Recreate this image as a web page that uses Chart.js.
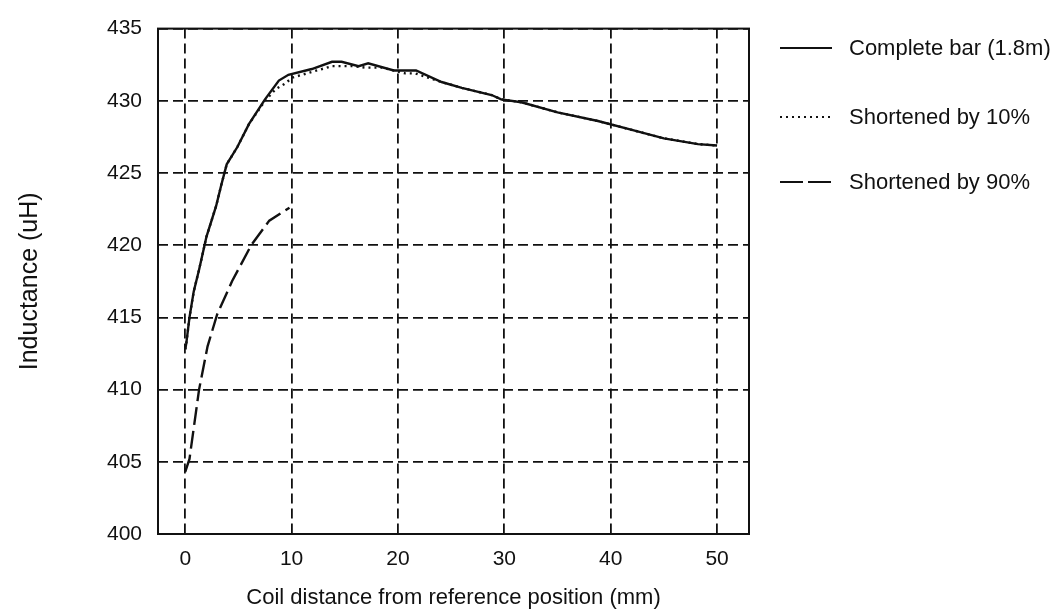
<!DOCTYPE html>
<html><head><meta charset="utf-8">
<script src="https://cdn.jsdelivr.net/npm/chart.js@4.4.1/dist/chart.umd.min.js"></script>
<style>html,body{margin:0;padding:0;background:#fff;}canvas{display:block;}</style>
</head><body>
<canvas id="c" width="1063" height="615"></canvas>
<script>
// ---- data ----
const seriesNames = ['Complete bar (1.8m)', 'Shortened by 10%', 'Shortened by 90%'];
const completeX = [0, 0.1, 0.4, 0.8, 1.3, 2.0, 2.9, 3.4, 3.9, 4.9, 6.0, 7.5, 8.8, 9.7, 11.9, 13.8, 14.7, 16.3, 17.2, 19.6, 21.7, 24.1, 26.0, 28.8, 29.7, 31.6, 35.0, 38.8, 41.9, 45.0, 48.2, 50];
const completeY = [412.8, 413.2, 415.0, 416.8, 418.3, 420.6, 422.7, 424.2, 425.6, 426.8, 428.4, 430.1, 431.4, 431.8, 432.2, 432.7, 432.7, 432.4, 432.6, 432.1, 432.1, 431.3, 430.9, 430.4, 430.1, 429.9, 429.2, 428.6, 428.0, 427.4, 427.0, 426.9];
const short10X = [0, 0.1, 0.4, 0.8, 1.3, 2.0, 2.9, 3.4, 3.9, 4.9, 6.0, 7.5, 8.5, 9.4, 10.05, 11.9, 13.8, 15.7, 16.9, 18.5, 20.7, 21.6, 24.1, 26.0, 28.8, 29.7, 31.6, 35.0, 38.8, 41.9, 45.0, 48.2, 50];
const short10Y = [412.8, 413.2, 415.0, 416.8, 418.3, 420.6, 422.7, 424.2, 425.6, 426.8, 428.4, 430.0, 430.8, 431.2, 431.6, 432.0, 432.4, 432.4, 432.3, 432.3, 431.9, 431.9, 431.3, 430.9, 430.4, 430.1, 429.9, 429.2, 428.6, 428.0, 427.4, 427.0, 426.9];
const short90X = [0, 0.4, 1.3, 2.1, 3.0, 4.4, 6.2, 7.9, 9.8];
const short90Y = [404.3, 405.2, 410.0, 413.0, 415.2, 417.5, 420.0, 421.7, 422.6];
const xTickValues = [0, 10, 20, 30, 40, 50];
const yTickValues = [400, 405, 410, 415, 420, 425, 430, 435];
const xTitle = 'Coil distance from reference position (mm)';
const yTitle = 'Inductance (uH)';

const FONT = '"Liberation Sans", Arial, Helvetica, sans-serif';
const INK = '#111';
const toPts = (xs, ys) => xs.map((x, i) => ({x: x, y: ys[i]}));

const lineStyles = [
  {dash: [], width: 2.4},
  {dash: [2, 4], width: 2.4},
  {dash: [18, 6], width: 2.4}
];

const framePlugin = {
  id: 'frame',
  beforeDatasetsDraw(chart) {
    const a = chart.chartArea, ctx = chart.ctx;
    ctx.save();
    ctx.strokeStyle = INK;
    ctx.lineWidth = 2;
    ctx.setLineDash([]);
    ctx.strokeRect(a.left, a.top, a.right - a.left, a.bottom - a.top);
    ctx.restore();
  }
};

const legendPlugin = {
  id: 'sideLegend',
  afterDraw(chart) {
    const ctx = chart.ctx;
    const rows = [48, 117, 182];
    ctx.save();
    seriesNames.forEach((name, i) => {
      const y = rows[i];
      ctx.strokeStyle = INK;
      ctx.lineWidth = 2;
      ctx.setLineDash(i === 1 ? [2, 4] : (i === 2 ? [23, 5] : []));
      ctx.beginPath();
      ctx.moveTo(780, y);
      ctx.lineTo(832, y);
      ctx.stroke();
      ctx.setLineDash([]);
      ctx.fillStyle = INK;
      ctx.font = '22px ' + FONT;
      ctx.textBaseline = 'middle';
      ctx.textAlign = 'left';
      ctx.fillText(name, 849, y + 1);
    });
    ctx.restore();
  }
};

new Chart(document.getElementById('c'), {
  type: 'line',
  data: {
    datasets: [
      {label: seriesNames[0], data: toPts(completeX, completeY)},
      {label: seriesNames[1], data: toPts(short10X, short10Y)},
      {label: seriesNames[2], data: toPts(short90X, short90Y)}
    ].map((d, i) => Object.assign(d, {
      borderColor: INK,
      borderWidth: lineStyles[i].width,
      borderDash: lineStyles[i].dash,
      pointRadius: 0,
      fill: false,
      tension: 0,
      order: 2 - i
    }))
  },
  options: {
    responsive: false,
    animation: false,
    devicePixelRatio: 1,
    layout: {padding: {left: 0, right: 314, top: 19, bottom: 0}},
    plugins: {legend: {display: false}, tooltip: {enabled: false}},
    scales: {
      x: {
        type: 'linear',
        min: -2.56,
        max: 53.0,
        afterBuildTicks(scale) { scale.ticks = xTickValues.map(v => ({value: v})); },
        afterFit(scale) { scale.height = 81; },
        grid: {color: INK, lineWidth: 1.8, drawTicks: false},
        border: {display: false, dash: [10, 5]},
        ticks: {color: INK, padding: 13, font: {family: FONT, size: 21}, callback: v => String(v)},
        title: {display: true, text: xTitle, color: INK, font: {family: FONT, size: 22}, padding: {top: 0, bottom: 4}}
      },
      y: {
        type: 'linear',
        min: 400,
        max: 435,
        afterBuildTicks(scale) { scale.ticks = yTickValues.map(v => ({value: v})); },
        afterFit(scale) { scale.width = 158; },
        grid: {color: INK, lineWidth: 1.8, drawTicks: false},
        border: {display: false, dash: [10, 5]},
        ticks: {color: INK, padding: 16, font: {family: FONT, size: 21}, callback: v => String(v)},
        title: {display: true, text: yTitle, color: INK, font: {family: FONT, size: 25}, padding: {top: 15, bottom: 0}}
      }
    }
  },
  plugins: [framePlugin, legendPlugin]
});
</script>
</body></html>
